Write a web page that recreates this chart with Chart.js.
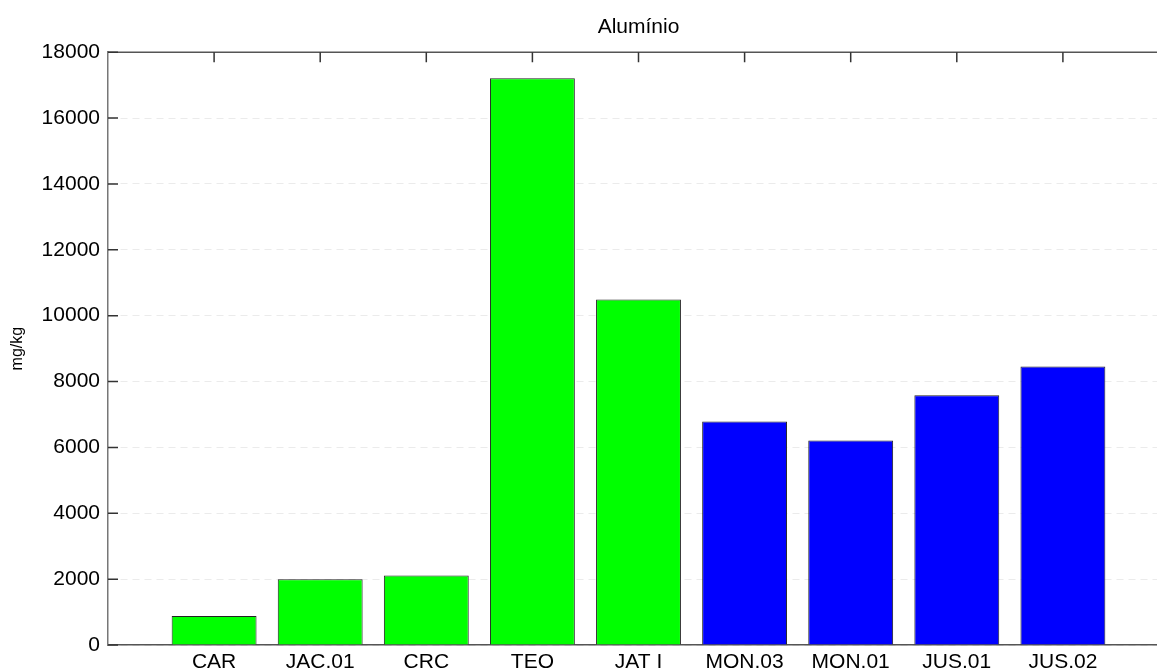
<!DOCTYPE html>
<html>
<head>
<meta charset="utf-8">
<title>Alumínio</title>
<script src="https://cdn.jsdelivr.net/npm/chart.js@4/dist/chart.umd.min.js"></script>
<style>
  html, body { margin: 0; padding: 0; background: #fff; overflow: hidden; }
  #wrap { width: 1180px; height: 671px; }
</style>
</head>
<body>
<div id="wrap"><canvas id="alChart" width="1180" height="671"></canvas></div>
<script>
// sampling sites and aluminium content (mg/kg)
const sites = ['CAR', 'JAC.01', 'CRC', 'TEO', 'JAT I', 'MON.03', 'MON.01', 'JUS.01', 'JUS.02'];
const aluminio = [880, 2000, 2110, 17210, 10490, 6790, 6210, 7580, 8460];
const siteGroup = [1, 1, 1, 1, 1, 2, 2, 2, 2];
const yTicks = [0, 2000, 4000, 6000, 8000, 10000, 12000, 14000, 16000, 18000];

const groupColor = { 1: '#00ff00', 2: '#0000ff' };
const font = "'Liberation Sans', Arial, sans-serif";

// MATLAB style: box on top, tick marks pointing inward
const innerTicks = {
  id: 'innerTicks',
  afterDraw(c) {
    const ctx = c.ctx, a = c.chartArea;
    const x = c.scales.x, y = c.scales.y;
    ctx.save();
    ctx.strokeStyle = '#555';
    ctx.lineWidth = 1.5;
    ctx.beginPath();
    ctx.moveTo(a.left, a.top);
    ctx.lineTo(a.right, a.top);
    ctx.stroke();
    ctx.strokeStyle = '#333';
    ctx.beginPath();
    sites.forEach((s, i) => {
      const px = x.getPixelForValue(i + 1);
      ctx.moveTo(px, a.top);
      ctx.lineTo(px, a.top + 10);
    });
    yTicks.forEach(v => {
      const py = y.getPixelForValue(v);
      ctx.moveTo(a.left, py);
      ctx.lineTo(a.left + 10, py);
    });
    ctx.stroke();
    ctx.restore();
  }
};

const ctx = document.getElementById('alChart').getContext('2d');
const chart = new Chart(ctx, {
  type: 'bar',
  data: {
    datasets: [{
      label: 'Alumínio',
      data: sites.map((s, i) => ({ x: i + 1, y: aluminio[i] })),
      backgroundColor: siteGroup.map(g => groupColor[g]),
      borderColor: '#222',
      borderWidth: 1,
      barPercentage: 1,
      categoryPercentage: 0.8
    }]
  },
  options: {
    responsive: false,
    animation: false,
    layout: { padding: { left: 0, right: 11, top: 0, bottom: 0 } },
    plugins: {
      legend: { display: false },
      tooltip: { enabled: false },
      title: {
        display: true,
        text: 'Alumínio',
        fullSize: false,
        color: '#000',
        font: { family: font, size: 21, weight: 'normal' },
        padding: { top: 15, bottom: 12 }
      }
    },
    scales: {
      x: {
        type: 'linear',
        min: 0,
        max: 10,
        offset: false,
        grid: { display: false, offset: false },
        border: { display: true, color: '#555', width: 1.5 },
        ticks: {
          stepSize: 1,
          autoSkip: false,
          maxRotation: 0,
          padding: -3,
          color: '#000',
          font: { family: font, size: 21 },
          callback: v => sites[v - 1] || ''
        },
        afterFit(s) { s.height = 26; }
      },
      y: {
        min: 0,
        max: 18000,
        grid: {
          color: '#ebebeb',
          drawTicks: false
        },
        border: { display: true, color: '#777', width: 1.5, dash: [7, 5] },
        ticks: {
          stepSize: 2000,
          padding: 8,
          color: '#000',
          font: { family: font, size: 21 },
          callback: v => String(v)
        },
        title: {
          display: true,
          text: 'mg/kg',
          color: '#000',
          font: { family: font, size: 16 },
          padding: { top: 8, bottom: 0 }
        },
        afterFit(s) { s.width = 108; }
      }
    }
  },
  plugins: [innerTicks]
});
</script>
</body>
</html>
